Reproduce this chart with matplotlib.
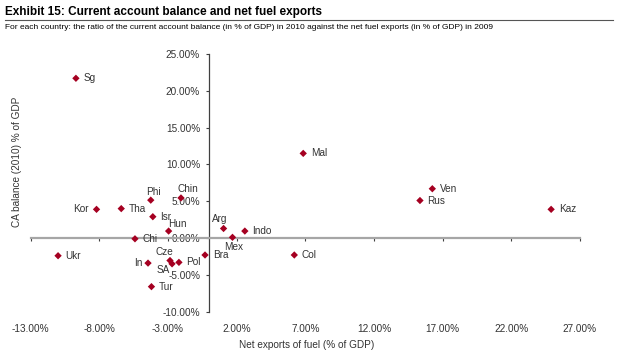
import numpy as np
import matplotlib
matplotlib.use("Agg")
import matplotlib.pyplot as plt
from matplotlib.ticker import FuncFormatter

plt.rcParams['font.family'] = ['Liberation Sans', 'DejaVu Sans']

# Données (en % du PIB)
countries = ['Sg', 'Mal', 'Ven', 'Rus', 'Kaz', 'Phi', 'Chin', 'Kor', 'Tha', 'Isr',
             'Hun', 'Chi', 'Arg', 'Mex', 'Indo', 'Ukr', 'Cze', 'SA', 'In', 'Pol',
             'Bra', 'Col', 'Tur']
fuel_exports = [-9.7, 6.85, 16.25, 15.35, 24.9, -4.25, -2.05, -8.2, -6.4, -4.1,
                -2.95, -5.4, 1.05, 1.7, 2.6, -11.0, -2.85, -2.7, -4.45, -2.2,
                -0.3, 6.2, -4.2]
ca_balance = [21.7, 11.5, 6.7, 5.1, 3.9, 5.15, 5.45, 3.9, 4.0, 2.9,
              0.95, -0.1, 1.3, 0.1, 0.95, -2.4, -3.05, -3.5, -3.4, -3.3,
              -2.3, -2.3, -6.6]

x_ticks = [-13, -8, -3, 2, 7, 12, 17, 22, 27]
y_ticks = [-10, -5, 0, 5, 10, 15, 20, 25]

# Placement des étiquettes (décalage en points, alignement horizontal)
label_pos = {
    'Chin': ((5, 6.2), 'center'),
    'Phi': ((2, 6), 'center'),
    'Hun': ((6.2, 5.3), 'center'),
    'Arg': ((-2.8, 6.7), 'center'),
    'Mex': ((0.7, -6.7), 'center'),
    'Cze': ((-3.7, 6.2), 'center'),
    'SA': ((-6.7, -4.3), 'center'),
    'In': ((-4, 0), 'right'),
    'Kor': ((-6, 0), 'right'),
}

dark_red = '#A50021'
text_col = '#333333'

fig = plt.figure(figsize=(6.4, 3.64), dpi=100)
ax = fig.add_axes([0.0478, 0.1437, 0.8584, 0.708])

ax.scatter(fuel_exports, ca_balance, marker='D', s=14, color=dark_red,
           edgecolors='none', zorder=3)

for name, xv, yv in zip(countries, fuel_exports, ca_balance):
    off, ha = label_pos.get(name, ((5.5, 0), 'left'))
    ax.annotate(name, (xv, yv), xytext=off, textcoords='offset points',
                ha=ha, va='center', fontsize=7.2, color=text_col, zorder=4)

ax.set_xlim(-13, 27)
ax.set_ylim(-10, 25)
ax.set_xticks(x_ticks)
ax.set_yticks(y_ticks)

pct = FuncFormatter(lambda v, p: '{:.2f}%'.format(v))
ax.yaxis.set_major_formatter(pct)

for s in ['top', 'right']:
    ax.spines[s].set_visible(False)
ax.spines['left'].set_position(('data', 0))
ax.spines['bottom'].set_position(('data', 0))
ax.spines['left'].set_color('#404040')
ax.spines['left'].set_linewidth(0.9)
ax.spines['bottom'].set_color('#A6A6A6')
ax.spines['bottom'].set_linewidth(1.6)

ax.tick_params(axis='y', direction='out', length=2.5, width=0.8, color='#404040',
               pad=4, labelsize=7.2, labelcolor=text_col)
ax.tick_params(axis='x', direction='out', length=2.5, width=0.8, color='#404040',
               labelbottom=False)

# Étiquettes de l'axe X en bas du graphique
sec = ax.secondary_xaxis(0)
sec.set_xticks(x_ticks)
sec.xaxis.set_major_formatter(pct)
sec.spines['bottom'].set_visible(False)
sec.tick_params(length=0, pad=9, labelsize=7.2, labelcolor=text_col)

ax.set_xlabel('Net exports of fuel (% of GDP)', fontsize=7.2, color=text_col)
ax.xaxis.set_label_coords(0.503, -0.11)
ax.set_ylabel('CA balance (2010) % of GDP', fontsize=7.2, color=text_col)
ax.yaxis.set_label_coords(-0.016, 0.583)

fig.text(0.008, 0.967, 'Exhibit 15: Current account balance and net fuel exports',
         fontsize=8.5, fontweight='bold', color='black', va='center')
fig.add_artist(plt.Line2D([0.008, 0.958], [0.944, 0.944], color='#555555', lw=0.8))
fig.text(0.008, 0.925, 'For each country: the ratio of the current account balance '
         '(in % of GDP) in 2010 against the net fuel exports (in % of GDP) in 2009',
         fontsize=6.0, color='black', va='center')

fig.savefig('out.png', dpi=100)
